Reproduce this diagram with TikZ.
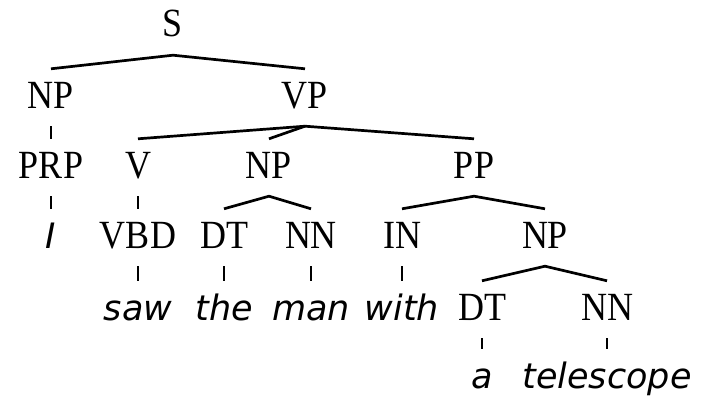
\documentclass[tikz,border=0pt]{standalone}
\usepackage{fontspec}
\usepackage{tikz}

\newfontfamily\catfont[FakeStretch=0.9]{Liberation Serif}
\newfontfamily\wordfont{DejaVu Sans Oblique}

\tikzset{
	cat/.style={font=\catfont\fontsize{40}{44}\selectfont, anchor=base, inner xsep=0pt, inner ysep=12pt, text height=27pt, text depth=6pt},
	word/.style={cat, font=\wordfont\fontsize{35}{40}\selectfont},
	branch/.style={black, line width=2.7pt}
}

\begin{document}
\begin{tikzpicture}[x=1pt, y=-1pt]
	\useasboundingbox (0,0) rectangle (708,396);
	% label
	\node [cat] (s) at (173,37) {S};
	\node [cat] (np1) at (51,108) {NP};
	\node [cat] (vp) at (305,108) {VP};
	\node [cat] (prp) at (51,178) {PRP};
	\node [cat] (v) at (138,178) {V};
	\node [cat] (np2) at (269,178) {NP};
	\node [cat] (pp) at (474,178) {PP};
	\node [cat] (vbd) at (138,248) {VBD};
	\node [cat] (dt1) at (224,248) {DT};
	\node [cat] (nn1) at (311,248) {NN};
	\node [cat] (in) at (402,248) {IN};
	\node [cat] (np3) at (545,248) {NP};
	\node [cat] (dt2) at (482,320) {DT};
	\node [cat] (nn2) at (607,320) {NN};
	% words
	\node [word] (w1) at (51,248) {I};
	\node [word] (w2) at (138,320) {saw};
	\node [word] (w3) at (224,320) {the};
	\node [word] (w4) at (311,320) {man};
	\node [word] (w5) at (402,320) {with};
	\node [word] (w6) at (482,388) {a};
	\node [word] (w7) at (607,388) {telescope};

	% S
	\draw [branch] (np1.north) -- (s.south) -- (vp.north);
	% NP
	\draw [branch] (np1.south) -- (prp.north);
	\draw [branch] (prp.south) -- (w1.north);
	% VP
	\draw [branch] (v.north) -- (vp.south) -- (pp.north);
	\draw [branch] (vp.south) -- (np2.north);
	\draw [branch] (v.south) -- (vbd.north);
	\draw [branch] (vbd.south) -- (w2.north);
	% NP
	\draw [branch] (dt1.north) -- (np2.south) -- (nn1.north);
	\draw [branch] (dt1.south) -- (w3.north);
	\draw [branch] (nn1.south) -- (w4.north);
	% PP
	\draw [branch] (in.north) -- (pp.south) -- (np3.north);
	\draw [branch] (in.south) -- (w5.north);
	% NP
	\draw [branch] (dt2.north) -- (np3.south) -- (nn2.north);
	\draw [branch] (dt2.south) -- (w6.north);
	\draw [branch] (nn2.south) -- (w7.north);
\end{tikzpicture}
\end{document}
